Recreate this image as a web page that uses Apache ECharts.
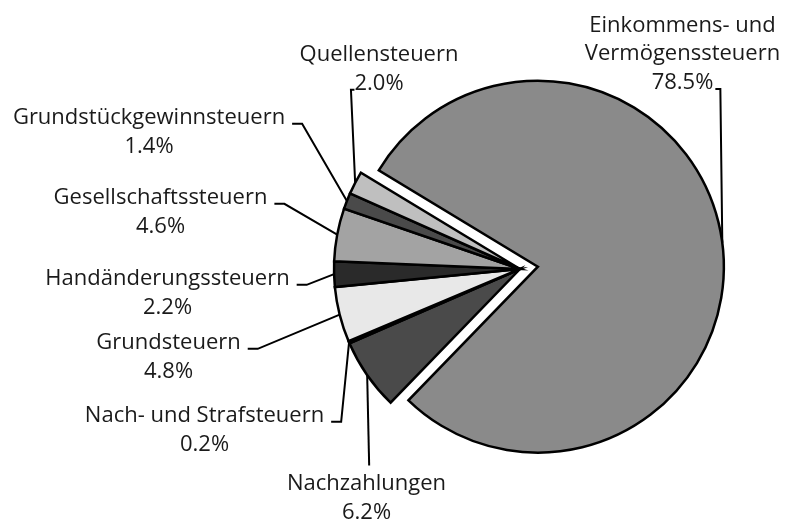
<!DOCTYPE html>
<html>
<head>
<meta charset="utf-8">
<script src="https://cdn.jsdelivr.net/npm/echarts@6/dist/echarts.min.js"></script>
<style>
html,body{margin:0;padding:0;background:#ffffff;}
#chart{width:787px;height:521px;}
</style>
</head>
<body>
<div id="chart"></div>
<script>
// ---- data ----
const categories = [
  'Einkommens- und\nVermögenssteuern',
  'Nachzahlungen',
  'Nach- und Strafsteuern',
  'Grundsteuern',
  'Handänderungssteuern',
  'Gesellschaftssteuern',
  'Grundstückgewinnsteuern',
  'Quellensteuern'
];
const shares = [78.5, 6.2, 0.2, 4.8, 2.2, 4.6, 1.4, 2.0];

// ---- styling & label layout (not data) ----
const sliceColors = ['#8a8a8a', '#4a4a4a', '#000000', '#e8e8e8', '#2a2a2a', '#a3a3a3', '#4a4a4a', '#bfbfbf'];
const labelCenters = [
  [682.5, 54], [366.5, 498], [204.5, 430], [168.5, 357],
  [167.5, 293], [160.5, 212], [149, 132], [379, 69]
];
const leaderStyle = ['belowRight', 'top', 'right', 'right', 'right', 'right', 'right', 'belowLeft'];

const FONT = 'Open Sans', FS = 22, LH = 28.5, BASE = 6.6;
const PIE_C = [520, 269], PIE_R = 186, START = 148.8, EXPLODE = 18;

const total = shares.reduce((a, b) => a + b, 0);
const midBig = (START - shares[0] / total * 180) * Math.PI / 180;
const bigCenter = [PIE_C[0] + EXPLODE * Math.cos(midBig), PIE_C[1] - EXPLODE * Math.sin(midBig)];

const mctx = document.createElement('canvas').getContext('2d');
mctx.font = FS + 'px "' + FONT + '"';
const tw = s => mctx.measureText(s).width;
const pct = v => v.toFixed(1) + '%';

function layout(params) {
  const i = params.dataIndex;
  const c = labelCenters[i];
  const cx = c[0], cy = c[1];
  const lines = (categories[i] + '\n' + pct(shares[i])).split('\n');
  const n = lines.length;
  const top = cy - n * LH / 2;
  const edge = params.labelLinePoints ? params.labelLinePoints[0].slice() : [cx, cy];
  let pts;
  const type = leaderStyle[i];
  if (type === 'right') {
    const xr = cx + tw(lines[0]) / 2;
    const yb = top + LH / 2 + BASE - 0.5;
    pts = [edge, [xr + 17, yb], [xr + 7, yb]];
  } else if (type === 'belowLeft') {
    const xl = cx - tw(lines[n - 1]) / 2;
    const yb = top + (n - 0.5) * LH + BASE;
    pts = [edge, [xl - 3.5, yb], [xl, yb]];
  } else if (type === 'belowRight') {
    const xr = cx + tw(lines[n - 1]) / 2;
    const yb = top + (n - 0.5) * LH + BASE;
    pts = [edge, [xr + 7, yb], [xr + 2, yb]];
  } else {
    pts = [edge, [edge[0] + 2, top - 4]];
  }
  return { x: cx, y: cy, align: 'center', verticalAlign: 'middle', labelLinePoints: pts };
}

const hidden = { color: 'rgba(0,0,0,0)', borderWidth: 0, borderColor: 'rgba(0,0,0,0)' };
const dataSmall = categories.map((name, i) => i === 0
  ? { name, value: shares[i], itemStyle: hidden, label: { show: false }, labelLine: { show: false } }
  : { name, value: shares[i], itemStyle: { color: sliceColors[i] } });
const dataBig = categories.map((name, i) => i === 0
  ? { name, value: shares[i], itemStyle: { color: sliceColors[i] } }
  : { name, value: shares[i], itemStyle: hidden, label: { show: false }, labelLine: { show: false } });

function pieSeries(center, data) {
  return {
    type: 'pie',
    center: center,
    radius: PIE_R,
    startAngle: START,
    clockwise: true,
    avoidLabelOverlap: false,
    silent: true,
    animation: false,
    emphasis: { disabled: true },
    itemStyle: { borderColor: '#000', borderWidth: 2.5, borderJoin: 'miter' },
    label: {
      show: true,
      position: 'outside',
      formatter: p => p.name + '\n' + pct(p.value),
      fontFamily: FONT,
      fontSize: FS,
      lineHeight: LH,
      color: '#1a1a1a'
    },
    labelLine: { show: true, smooth: false, lineStyle: { color: '#000', width: 2 } },
    labelLayout: layout,
    data: data
  };
}

const chart = echarts.init(document.getElementById('chart'), null, { renderer: 'canvas' });
chart.setOption({
  backgroundColor: '#ffffff',
  animation: false,
  series: [pieSeries(PIE_C, dataSmall), pieSeries(bigCenter, dataBig)]
});
</script>
</body>
</html>
